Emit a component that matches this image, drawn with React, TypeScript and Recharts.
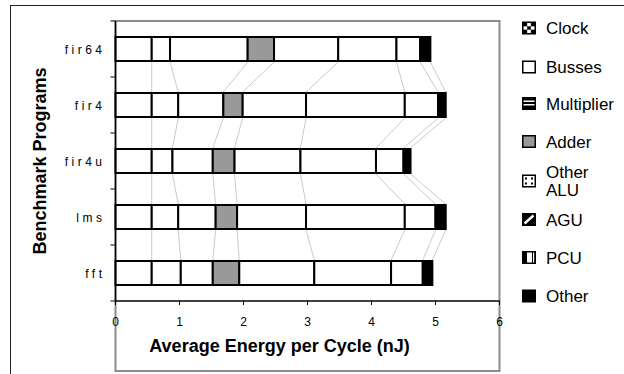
import React from 'react';
import { BarChart, Bar, XAxis, YAxis, ReferenceArea } from 'recharts';

const programs = ['fir64', 'fir4', 'fir4u', 'lms', 'fft'];
const seriesNames = ['Clock', 'Busses', 'Multiplier', 'Adder', 'Other ALU', 'AGU', 'PCU', 'Other'];
const clock = [0.566, 0.566, 0.566, 0.566, 0.566];
const busses = [0.286, 0.414, 0.324, 0.414, 0.454];
const multiplier = [1.213, 0.705, 0.63, 0.585, 0.5];
const adder = [0.412, 0.302, 0.34, 0.335, 0.414];
const otherAlu = [1.003, 0.99, 1.03, 1.077, 1.172];
const agu = [0.91, 1.543, 1.18, 1.543, 1.2];
const pcu = [0.37, 0.52, 0.43, 0.48, 0.495];
const other = [0.16, 0.12, 0.11, 0.16, 0.15];
const xTicks = [0, 1, 2, 3, 4, 5, 6];

const seriesValues = [clock, busses, multiplier, adder, otherAlu, agu, pcu, other];
const seriesFills = ['#ffffff', '#ffffff', '#ffffff', '#999999', '#ffffff', '#ffffff', '#ffffff', '#000000'];

const data = programs.map((p, i) => {
  const row: Record<string, any> = { name: p };
  seriesNames.forEach((s, k) => {
    row[s] = seriesValues[k][i];
  });
  return row;
});

const FONT = 'Arial, "Liberation Sans", sans-serif';

type Geo = { x: number; y: number; w: number; h: number };
const geo: Record<number, Record<number, Geo>> = {};

function makeShape(si: number) {
  return (props: any) => {
    const { x, y, width, height, payload } = props;
    const idx = programs.indexOf(payload?.name);
    if (!geo[si]) geo[si] = {};
    geo[si][idx] = { x, y, w: width, h: height };
    const extra: React.ReactNode[] = [];
    if (si === seriesNames.length - 1 && idx > 0) {
      // series lines between adjacent bars
      for (let s = 0; s < seriesNames.length; s++) {
        const a = geo[s]?.[idx - 1];
        const b = geo[s]?.[idx];
        if (a && b) {
          extra.push(
            <line key={'sl' + s} x1={a.x + a.w} y1={a.y + a.h + 1} x2={b.x + b.w} y2={b.y - 1} stroke="#a6a6a6" strokeWidth={0.6} />
          );
        }
      }
      // category boundary tick marks on the category axis
      const p = geo[0][idx - 1];
      const c = geo[0][idx];
      const step = c.y - p.y;
      const ax = c.x;
      const edges: number[] = [p.y + p.h / 2 + step / 2];
      if (idx === 1) edges.push(p.y + p.h / 2 - step / 2);
      if (idx === programs.length - 1) edges.push(c.y + c.h / 2 + step / 2);
      edges.forEach((ey, k) =>
        extra.push(<line key={'tk' + k} x1={ax - 5} y1={ey} x2={ax} y2={ey} stroke="#000" strokeWidth={1} />)
      );
    }
    return (
      <g>
        <rect x={x} y={y} width={width} height={height} fill={seriesFills[si]} stroke="#000" strokeWidth={2} />
        {extra}
      </g>
    );
  };
}

const CatTick = (props: any) => {
  const { x, y, payload } = props;
  return (
    <text x={x} y={y} dy={4.5} textAnchor="end" fontFamily={FONT} fill="#000" style={{ fontSize: 12, letterSpacing: '3.5px' }}>
      {payload.value}
    </text>
  );
};

const legendRows = [
  { name: 'Clock', lines: ['Clock'], cy: 28 },
  { name: 'Busses', lines: ['Busses'], cy: 67 },
  { name: 'Multiplier', lines: ['Multiplier'], cy: 103.5 },
  { name: 'Adder', lines: ['Adder'], cy: 141.5 },
  { name: 'Other ALU', lines: ['Other', 'ALU'], cy: 181 },
  { name: 'AGU', lines: ['AGU'], cy: 219.5 },
  { name: 'PCU', lines: ['PCU'], cy: 257.5 },
  { name: 'Other', lines: ['Other'], cy: 296 },
];

function Icon({ name, x, y, w, h }: { name: string; x: number; y: number; w: number; h: number }) {
  if (name === 'Clock') {
    const cells: React.ReactNode[] = [];
    const n = 3;
    const cw = (w - 3) / n;
    const ch = (h - 3) / n;
    for (let i = 0; i < n; i++)
      for (let j = 0; j < n; j++)
        if ((i + j) % 2 === 1) cells.push(<rect key={i + '-' + j} x={x + 1.5 + i * cw} y={y + 1.5 + j * ch} width={cw} height={ch} fill="#fff" />);
    return (
      <g>
        <rect x={x} y={y} width={w} height={h} fill="#000" />
        {cells}
      </g>
    );
  }
  if (name === 'Busses') return <rect x={x + 0.75} y={y + 0.75} width={w - 1.5} height={h - 1.5} fill="#fff" stroke="#000" strokeWidth={1.5} />;
  if (name === 'Multiplier')
    return (
      <g>
        <rect x={x} y={y} width={w} height={h} fill="#000" />
        {[3.5, 7].map((d) => (
          <rect key={d} x={x + 1.5} y={y + d} width={w - 3} height={1.5} fill="#fff" />
        ))}
      </g>
    );
  if (name === 'Adder') return <rect x={x + 0.75} y={y + 0.75} width={w - 1.5} height={h - 1.5} fill="#999" stroke="#000" strokeWidth={1.5} />;
  if (name === 'Other ALU')
    return (
      <g>
        <rect x={x + 0.75} y={y + 0.75} width={w - 1.5} height={h - 1.5} fill="#fff" stroke="#000" strokeWidth={1.5} />
        {[
          [3, 3],
          [w - 5, 3],
          [3, h - 5],
          [w - 5, h - 5],
        ].map(([dx, dy], k) => (
          <rect key={k} x={x + dx} y={y + dy} width={2} height={2} fill="#000" />
        ))}
      </g>
    );
  if (name === 'AGU')
    return (
      <g>
        <rect x={x} y={y} width={w} height={h} fill="#000" />
        <line x1={x + 2.5} y1={y + h - 2.5} x2={x + w - 2.5} y2={y + 2.5} stroke="#fff" strokeWidth={2.5} />
      </g>
    );
  if (name === 'PCU')
    return (
      <g>
        <rect x={x} y={y} width={w} height={h} fill="#000" />
        <rect x={x + 5} y={y + 1.5} width={5} height={h - 3} fill="#fff" />
        <rect x={x + 11} y={y + 1.5} width={1.2} height={h - 3} fill="#fff" />
      </g>
    );
  return <rect x={x} y={y} width={w} height={h} fill="#000" />;
}

const Legend = () => (
  <svg width={624} height={374} style={{ position: 'absolute', left: 0, top: 0, pointerEvents: 'none' }}>
    {legendRows.map((r) => {
      const iw = 14;
      const ih = 13;
      return (
        <g key={r.name}>
          <Icon name={r.name} x={522} y={r.cy - ih / 2} w={iw} h={ih} />
          {r.lines.map((t, k) => (
            <text
              key={k}
              x={546}
              y={r.cy + 6 + (k - (r.lines.length - 1) / 2) * 18.5}
              fontSize={17}
              fontFamily={FONT}
              fill="#000"
            >
              {t}
            </text>
          ))}
        </g>
      );
    })}
  </svg>
);

export default function App() {
  return (
    <div style={{ position: 'absolute', left: 0, top: 0, width: 624, height: 374, overflow: 'hidden', background: '#fff' }}>
      <div style={{ position: 'absolute', left: 10, top: 5, width: 800, height: 600, borderLeft: '1px solid #222', borderTop: '1px solid #222' }} />
      <div style={{ position: 'absolute', left: 0, top: 0 }}>
        <BarChart
          width={624}
          height={374}
          data={data}
          layout="vertical"
          margin={{ top: 21, right: 124.5, bottom: 0, left: 0 }}
          barSize={24}
        >
          <YAxis yAxisId="edges" type="number" domain={[0, 5]} allowDataOverflow hide />
          <YAxis
            type="category"
            dataKey="name"
            width={115.5}
            tickLine={false}
            tickSize={5}
            tickMargin={5}
            axisLine={{ stroke: '#000', strokeWidth: 1.5 }}
            tick={CatTick}
            label={{
              value: 'Benchmark Programs',
              angle: -90,
              position: 'insideLeft',
              offset: 40,
              style: { textAnchor: 'middle', fontSize: 18, fontWeight: 700, fontFamily: FONT, fill: '#000' },
            }}
          />
          <XAxis
            type="number"
            domain={[0, 6]}
            ticks={xTicks}
            height={73}
            tickSize={4}
            tickMargin={12}
            tickLine={{ stroke: '#000' }}
            axisLine={{ stroke: '#000', strokeWidth: 1.5 }}
            tick={{ fontSize: 12, fill: '#000', fontFamily: FONT }}
            label={{
              value: 'Average Energy per Cycle (nJ)',
              position: 'insideBottom',
              offset: 22,
              dx: -28,
              style: { fontSize: 18, fontWeight: 700, fontFamily: FONT, fill: '#000' },
            }}
          />
          <ReferenceArea
            yAxisId="edges"
            x1={0}
            x2={6}
            y1={0}
            y2={5}
            fill="none"
            stroke="#8c8c8c"
            strokeWidth={2}
            ifOverflow="visible"
          />
          {seriesNames.map((s, si) => (
            <Bar key={s} dataKey={s} stackId="a" isAnimationActive={false} shape={makeShape(si)} />
          ))}
        </BarChart>
      </div>
      <Legend />
    </div>
  );
}
